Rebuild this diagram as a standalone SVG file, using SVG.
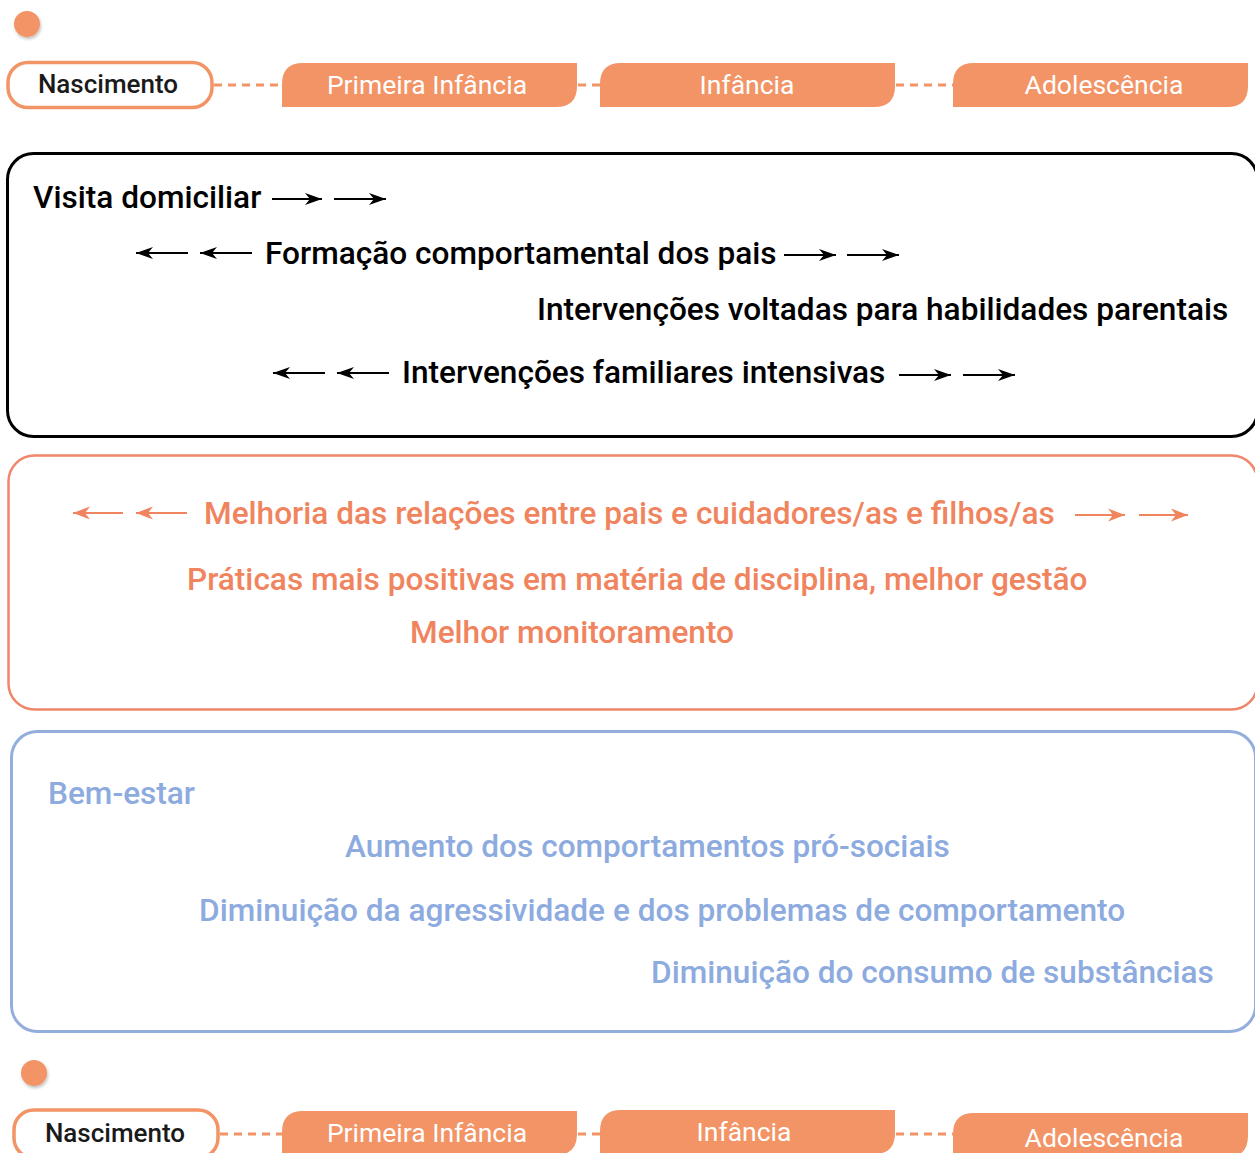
<svg xmlns="http://www.w3.org/2000/svg" width="1255" height="1153" viewBox="0 0 1255 1153">
<style>
.dot{fill:#F29466;filter:url(#sh)}
.start{fill:#fff;stroke:#F29466;stroke-width:3.5}
.tab{fill:#F29466}
.dash{stroke:#F29466;stroke-width:3;stroke-dasharray:8 6;fill:none}
.tl{font-family:Roboto,"Liberation Sans",sans-serif;font-size:26.5px;text-anchor:middle}
.tw{fill:#fff}
.tk{fill:#1a1a1a;font-weight:500;font-size:26px}
.t{font-family:Roboto,"Liberation Sans",sans-serif;font-size:31.6px;font-weight:500}
.k{fill:#000}
.o{fill:#F0845E}
.b{fill:#8DABDF}
.ak{stroke:#000;stroke-width:2;fill:none}
.ao{stroke:#F0845E;stroke-width:1.8;fill:none}
</style>
<defs>
<filter id="sh" x="-50%" y="-50%" width="200%" height="200%"><feDropShadow dx="1" dy="2" stdDeviation="1.5" flood-color="#000" flood-opacity="0.25"/></filter>
<marker id="mk" markerUnits="userSpaceOnUse" markerWidth="20" markerHeight="16" refX="17" refY="7" orient="auto"><path d="M0,1 L17,7 L0,13 L5,7 Z" fill="#000"/></marker>
<marker id="mo" markerUnits="userSpaceOnUse" markerWidth="20" markerHeight="16" refX="17" refY="7" orient="auto"><path d="M0,0.5 L17,7 L0,13.5 L5,7 Z" fill="#F0845E"/></marker>
</defs>

<g id="timeline-top">
<circle class="dot" cx="27" cy="24" r="13"/>
<g id="top-nascimento"><rect class="start" x="8" y="62.5" width="204" height="45" rx="20"/><text class="tl tk" x="108" y="93">Nascimento</text></g>
<g id="top-primeira"><path class="tab" d="M282,107 V84 Q282,63 303,63 H577 V86 Q577,107 556,107 Z"/><text class="tl tw" x="427" y="94">Primeira Infância</text></g>
<g id="top-infancia"><path class="tab" d="M600,107 V84 Q600,63 621,63 H895 V86 Q895,107 874,107 Z"/><text class="tl tw" x="747" y="94">Infância</text></g>
<g id="top-adolescencia"><path class="tab" d="M953,107 V84 Q953,63 974,63 H1248 V86 Q1248,107 1227,107 Z"/><text class="tl tw" x="1104" y="94">Adolescência</text></g>
</g>

<g id="timeline-bottom">
<circle class="dot" cx="34" cy="1073" r="13"/>
<g id="bot-nascimento"><rect class="start" x="14" y="1110" width="204" height="48" rx="20"/><text class="tl tk" x="115" y="1142">Nascimento</text></g>
<g id="bot-primeira"><path class="tab" d="M282,1156 V1132 Q282,1111 303,1111 H577 V1134 Q577,1155 556,1155 Z"/><text class="tl tw" x="427" y="1142">Primeira Infância</text></g>
<g id="bot-infancia"><path class="tab" d="M600,1156 V1131 Q600,1110 621,1110 H895 V1133 Q895,1154 874,1154 Z"/><text class="tl tw" x="744" y="1141">Infância</text></g>
<g id="bot-adolescencia"><path class="tab" d="M953,1160 V1134 Q953,1113 974,1113 H1248 V1136 Q1248,1157 1227,1157 Z"/><text class="tl tw" x="1104" y="1147">Adolescência</text></g>
</g>

<g id="connectors">
<line class="dash" x1="214" y1="85" x2="282" y2="85"/>
<line class="dash" x1="578" y1="85" x2="600" y2="85"/>
<line class="dash" x1="896" y1="85" x2="953" y2="85"/>
<line class="dash" x1="220" y1="1134" x2="282" y2="1134"/>
<line class="dash" x1="578" y1="1134" x2="600" y2="1134"/>
<line class="dash" x1="896" y1="1134" x2="953" y2="1134"/>
</g>

<g id="interventions">
<rect x="7.5" y="153.5" width="1250" height="283" rx="26" fill="none" stroke="#000" stroke-width="3"/>
<text class="t k" x="33" y="208">Visita domiciliar</text>
<text class="t k" x="265" y="264">Formação comportamental dos pais</text>
<text class="t k" x="537" y="320">Intervenções voltadas para habilidades parentais</text>
<text class="t k" x="402" y="383">Intervenções familiares intensivas</text>
<g id="black-arrows">
<line class="ak" x1="272" y1="199" x2="322" y2="199" marker-end="url(#mk)"/>
<line class="ak" x1="334" y1="199" x2="386" y2="199" marker-end="url(#mk)"/>
<line class="ak" x1="188" y1="253" x2="136" y2="253" marker-end="url(#mk)"/>
<line class="ak" x1="252" y1="253" x2="200" y2="253" marker-end="url(#mk)"/>
<line class="ak" x1="784" y1="255" x2="836" y2="255" marker-end="url(#mk)"/>
<line class="ak" x1="847" y1="255" x2="899" y2="255" marker-end="url(#mk)"/>
<line class="ak" x1="325" y1="373" x2="273" y2="373" marker-end="url(#mk)"/>
<line class="ak" x1="389" y1="373" x2="337" y2="373" marker-end="url(#mk)"/>
<line class="ak" x1="899" y1="375" x2="951" y2="375" marker-end="url(#mk)"/>
<line class="ak" x1="963" y1="375" x2="1015" y2="375" marker-end="url(#mk)"/>
</g>
</g>

<g id="parenting">
<rect x="8.5" y="455.5" width="1249" height="254" rx="26" fill="none" stroke="#F0866A" stroke-width="2.5"/>
<text class="t o" x="204" y="524">Melhoria das relações entre pais e cuidadores/as e filhos/as</text>
<text class="t o" x="187" y="590">Práticas mais positivas em matéria de disciplina, melhor gestão</text>
<text class="t o" x="410" y="643">Melhor monitoramento</text>
<g id="orange-arrows">
<line class="ao" x1="123" y1="513" x2="73" y2="513" marker-end="url(#mo)"/>
<line class="ao" x1="187" y1="513" x2="136" y2="513" marker-end="url(#mo)"/>
<line class="ao" x1="1075" y1="515" x2="1125" y2="515" marker-end="url(#mo)"/>
<line class="ao" x1="1139" y1="515" x2="1188" y2="515" marker-end="url(#mo)"/>
</g>
</g>

<g id="wellbeing">
<rect x="11.5" y="731.5" width="1244" height="300" rx="26" fill="none" stroke="#93AEDD" stroke-width="3"/>
<text class="t b" x="48" y="804">Bem-estar</text>
<text class="t b" x="345" y="857">Aumento dos comportamentos pró-sociais</text>
<text class="t b" x="199" y="921">Diminuição da agressividade e dos problemas de comportamento</text>
<text class="t b" x="651" y="983">Diminuição do consumo de substâncias</text>
</g>
</svg>
